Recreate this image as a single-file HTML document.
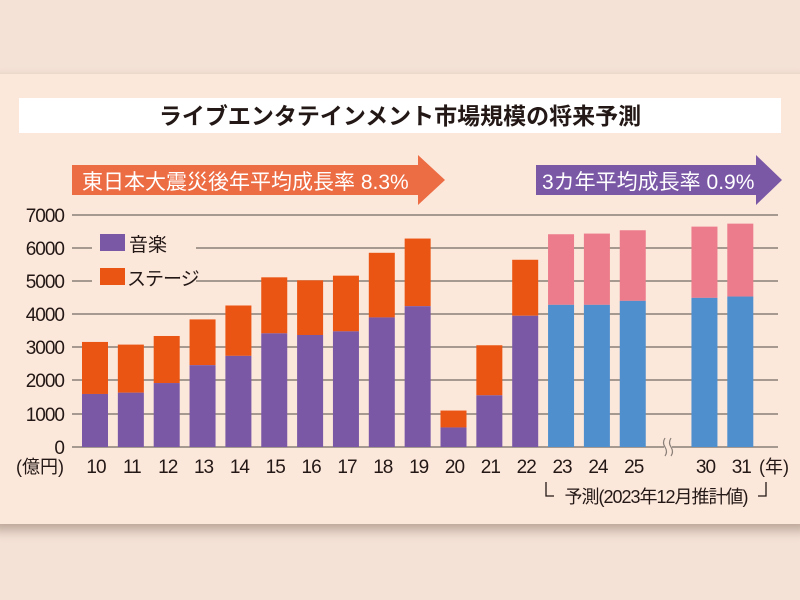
<!DOCTYPE html>
<html><head><meta charset="utf-8"><style>
html,body{margin:0;padding:0;background:#f2ddd0;}
svg{display:block;font-family:"Liberation Sans","Noto Sans CJK JP",sans-serif;}
</style></head><body>
<svg width="800" height="600" viewBox="0 0 800 600">
<defs><filter id="sh" x="-5%" y="-10%" width="110%" height="120%"><feGaussianBlur stdDeviation="6"/></filter></defs>
<rect x="0" y="0" width="800" height="600" fill="#f5e2d6"/>
<rect x="-10" y="80" width="820" height="450" fill="#b8a295" filter="url(#sh)"/>
<rect x="0" y="74" width="800" height="450" fill="#fce7db"/>
<rect x="19" y="98" width="762" height="35" fill="#ffffff"/>
<text x="400" y="124" text-anchor="middle" font-size="23" font-weight="bold" fill="#231815">ライブエンタテインメント市場規模の将来予測</text>
<polygon points="72,165 418,165 418,155 445,180 418,205 418,195 72,195" fill="#ec6c43"/>
<text x="82" y="189" font-size="21" fill="#fff">東日本大震災後年平均成長率 8.3%</text>
<polygon points="536,165 756,165 756,155 782,180 756,205 756,195 536,195" fill="#7b58a6"/>
<text x="542" y="189" font-size="21" fill="#fff">3カ年平均成長率 0.9%</text>
<g stroke="#8a8078" stroke-width="1.5">
<line x1="72" y1="215" x2="778" y2="215"/>
<line x1="72" y1="248" x2="778" y2="248"/>
<line x1="72" y1="281" x2="778" y2="281"/>
<line x1="72" y1="314" x2="778" y2="314"/>
<line x1="72" y1="347" x2="778" y2="347"/>
<line x1="72" y1="380" x2="778" y2="380"/>
<line x1="72" y1="414" x2="778" y2="414"/>
<line x1="72" y1="447" x2="664" y2="447"/>
<line x1="672" y1="447" x2="778" y2="447"/>
</g>
<path d="M665,438 q-3,5 0,9 q3,5 0,9 M671,438 q-3,5 0,9 q3,5 0,9" stroke="#8a8078" fill="none" stroke-width="1.2"/>
<rect x="92" y="228" width="104" height="62" fill="#fce7db"/>
<rect x="100" y="234" width="25" height="17" fill="#7b58a6"/>
<text x="129" y="251" font-size="19" fill="#231815">音楽</text>
<rect x="100" y="268" width="25" height="17" fill="#ea5513"/>
<text x="127" y="285" font-size="19" fill="#231815" letter-spacing="-1">ステージ</text>
<g font-size="19" fill="#231815" text-anchor="end" letter-spacing="-1">
<text x="64" y="222">7000</text><text x="64" y="255">6000</text><text x="64" y="288">5000</text><text x="64" y="321">4000</text><text x="64" y="354">3000</text><text x="64" y="387">2000</text><text x="64" y="421">1000</text><text x="64" y="454">0</text>
</g>
<g id="bars"></g>
<g font-size="19" fill="#231815" text-anchor="middle" letter-spacing="-1" id="xl"></g>
<text x="40" y="473" font-size="18" fill="#231815" text-anchor="middle">(億円)</text>
<text x="774" y="473" font-size="18" fill="#231815" text-anchor="middle">(年)</text>
<path d="M546,482 v14 h8 M766,482 v14 h-8" stroke="#231815" fill="none" stroke-width="1.3"/>
<text x="656" y="503" font-size="18" fill="#231815" text-anchor="middle" letter-spacing="-1">予測(2023年12月推計値)</text>
<script>
var d=[[10,1600,3170],[11,1640,3090],[12,1930,3350],[13,2470,3850],[14,2750,4270],[15,3430,5120],[16,3380,5030],[17,3490,5170],[18,3910,5860],[19,4250,6290],[20,590,1100],[21,1560,3070],[22,3960,5650],[23,4290,6420],[24,4290,6440],[25,4410,6540],[30,4500,6650],[31,4540,6740]];
var b=document.getElementById('bars'),xl=document.getElementById('xl'),ns='http://www.w3.org/2000/svg',s=33.14/1000,base=447;
d.forEach(function(r,i){var p=i<16?i:i+1;var cx=95+p*35.85;var f=r[0]>=23;
function R(y0,y1,c){var e=document.createElementNS(ns,'rect');e.setAttribute('x',cx-13);e.setAttribute('width',26);e.setAttribute('y',base-y1*s);e.setAttribute('height',(y1-y0)*s);e.setAttribute('fill',c);b.appendChild(e);}
R(r[1],r[2],f?'#ec7b8b':'#ea5513');R(0,r[1],f?'#4f8fce':'#7b58a6');
var t=document.createElementNS(ns,'text');t.setAttribute('x',cx+1);t.setAttribute('y',473);t.textContent=r[0];xl.appendChild(t);});
</script>
</svg>
</body></html>
